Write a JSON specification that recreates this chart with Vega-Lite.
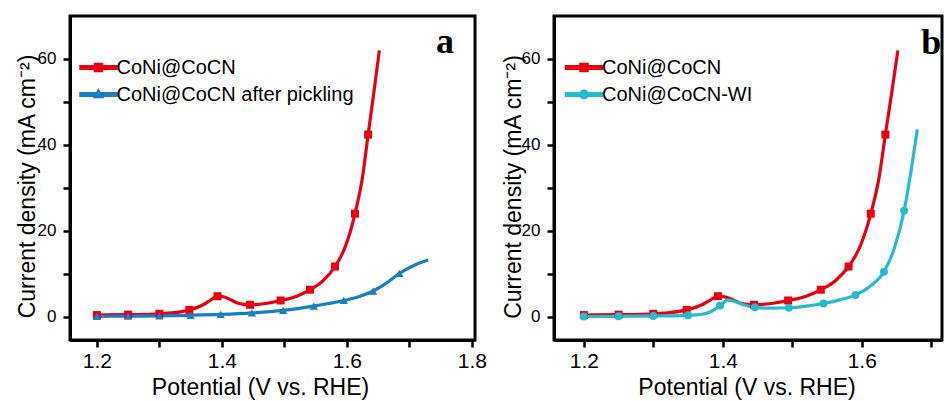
{
  "$schema": "https://vega.github.io/schema/vega-lite/v6.json",
  "padding": {"left": 14, "top": 14, "right": 0, "bottom": 0},
  "bounds": "flush",
  "spacing": 79,
  "config": {
    "view": {"stroke": "black", "strokeWidth": 3}
  },
  "datasets": {
    "curves": [
      {"series": "CoNi@CoCN", "x": 1.2, "y": 0.4},
      {"series": "CoNi@CoCN", "x": 1.25, "y": 0.5},
      {"series": "CoNi@CoCN", "x": 1.3, "y": 0.7},
      {"series": "CoNi@CoCN", "x": 1.32, "y": 0.9},
      {"series": "CoNi@CoCN", "x": 1.348, "y": 1.6},
      {"series": "CoNi@CoCN", "x": 1.37, "y": 2.8},
      {"series": "CoNi@CoCN", "x": 1.382, "y": 3.9},
      {"series": "CoNi@CoCN", "x": 1.393, "y": 4.8},
      {"series": "CoNi@CoCN", "x": 1.404, "y": 4.6},
      {"series": "CoNi@CoCN", "x": 1.415, "y": 3.9},
      {"series": "CoNi@CoCN", "x": 1.425, "y": 3.2},
      {"series": "CoNi@CoCN", "x": 1.435, "y": 2.9},
      {"series": "CoNi@CoCN", "x": 1.445, "y": 2.8},
      {"series": "CoNi@CoCN", "x": 1.47, "y": 3.1},
      {"series": "CoNi@CoCN", "x": 1.494, "y": 3.8},
      {"series": "CoNi@CoCN", "x": 1.52, "y": 4.8},
      {"series": "CoNi@CoCN", "x": 1.541, "y": 6.3},
      {"series": "CoNi@CoCN", "x": 1.562, "y": 8.4},
      {"series": "CoNi@CoCN", "x": 1.581, "y": 11.7},
      {"series": "CoNi@CoCN", "x": 1.598, "y": 16.5},
      {"series": "CoNi@CoCN", "x": 1.613, "y": 24},
      {"series": "CoNi@CoCN", "x": 1.625, "y": 32.5},
      {"series": "CoNi@CoCN", "x": 1.634, "y": 42.4},
      {"series": "CoNi@CoCN", "x": 1.643, "y": 52},
      {"series": "CoNi@CoCN", "x": 1.652, "y": 62},
      {"series": "CoNi@CoCN after pickling", "x": 1.2, "y": 0.1},
      {"series": "CoNi@CoCN after pickling", "x": 1.25, "y": 0.15},
      {"series": "CoNi@CoCN after pickling", "x": 1.3, "y": 0.2},
      {"series": "CoNi@CoCN after pickling", "x": 1.35, "y": 0.35},
      {"series": "CoNi@CoCN after pickling", "x": 1.398, "y": 0.55},
      {"series": "CoNi@CoCN after pickling", "x": 1.448, "y": 0.9},
      {"series": "CoNi@CoCN after pickling", "x": 1.498, "y": 1.5},
      {"series": "CoNi@CoCN after pickling", "x": 1.547, "y": 2.5},
      {"series": "CoNi@CoCN after pickling", "x": 1.595, "y": 3.8},
      {"series": "CoNi@CoCN after pickling", "x": 1.62, "y": 4.7},
      {"series": "CoNi@CoCN after pickling", "x": 1.642, "y": 6.0},
      {"series": "CoNi@CoCN after pickling", "x": 1.665, "y": 8.0},
      {"series": "CoNi@CoCN after pickling", "x": 1.684, "y": 10.1},
      {"series": "CoNi@CoCN after pickling", "x": 1.708, "y": 12.0},
      {"series": "CoNi@CoCN after pickling", "x": 1.73, "y": 13.2},
      {"series": "CoNi@CoCN-WI", "x": 1.2, "y": 0.05},
      {"series": "CoNi@CoCN-WI", "x": 1.25, "y": 0.1},
      {"series": "CoNi@CoCN-WI", "x": 1.3, "y": 0.2},
      {"series": "CoNi@CoCN-WI", "x": 1.35, "y": 0.35},
      {"series": "CoNi@CoCN-WI", "x": 1.37, "y": 0.6},
      {"series": "CoNi@CoCN-WI", "x": 1.384, "y": 1.3},
      {"series": "CoNi@CoCN-WI", "x": 1.396, "y": 2.6},
      {"series": "CoNi@CoCN-WI", "x": 1.407, "y": 3.9},
      {"series": "CoNi@CoCN-WI", "x": 1.418, "y": 3.5},
      {"series": "CoNi@CoCN-WI", "x": 1.43, "y": 2.8},
      {"series": "CoNi@CoCN-WI", "x": 1.446, "y": 2.2},
      {"series": "CoNi@CoCN-WI", "x": 1.47, "y": 2.0},
      {"series": "CoNi@CoCN-WI", "x": 1.495, "y": 2.1},
      {"series": "CoNi@CoCN-WI", "x": 1.52, "y": 2.5},
      {"series": "CoNi@CoCN-WI", "x": 1.545, "y": 3.1},
      {"series": "CoNi@CoCN-WI", "x": 1.57, "y": 4.0},
      {"series": "CoNi@CoCN-WI", "x": 1.591, "y": 5.1},
      {"series": "CoNi@CoCN-WI", "x": 1.612, "y": 7.1},
      {"series": "CoNi@CoCN-WI", "x": 1.632, "y": 10.5},
      {"series": "CoNi@CoCN-WI", "x": 1.647, "y": 16},
      {"series": "CoNi@CoCN-WI", "x": 1.661, "y": 24.7},
      {"series": "CoNi@CoCN-WI", "x": 1.671, "y": 34},
      {"series": "CoNi@CoCN-WI", "x": 1.68, "y": 43.6}
    ],
    "markers": [
      {"series": "CoNi@CoCN", "x": 1.2, "y": 0.4},
      {"series": "CoNi@CoCN", "x": 1.25, "y": 0.5},
      {"series": "CoNi@CoCN", "x": 1.3, "y": 0.7},
      {"series": "CoNi@CoCN", "x": 1.348, "y": 1.6},
      {"series": "CoNi@CoCN", "x": 1.393, "y": 4.8},
      {"series": "CoNi@CoCN", "x": 1.445, "y": 2.8},
      {"series": "CoNi@CoCN", "x": 1.494, "y": 3.8},
      {"series": "CoNi@CoCN", "x": 1.541, "y": 6.3},
      {"series": "CoNi@CoCN", "x": 1.581, "y": 11.7},
      {"series": "CoNi@CoCN", "x": 1.613, "y": 24},
      {"series": "CoNi@CoCN", "x": 1.634, "y": 42.4},
      {"series": "CoNi@CoCN after pickling", "x": 1.2, "y": 0.1},
      {"series": "CoNi@CoCN after pickling", "x": 1.25, "y": 0.15},
      {"series": "CoNi@CoCN after pickling", "x": 1.3, "y": 0.2},
      {"series": "CoNi@CoCN after pickling", "x": 1.35, "y": 0.35},
      {"series": "CoNi@CoCN after pickling", "x": 1.398, "y": 0.55},
      {"series": "CoNi@CoCN after pickling", "x": 1.448, "y": 0.9},
      {"series": "CoNi@CoCN after pickling", "x": 1.498, "y": 1.5},
      {"series": "CoNi@CoCN after pickling", "x": 1.547, "y": 2.5},
      {"series": "CoNi@CoCN after pickling", "x": 1.595, "y": 3.8},
      {"series": "CoNi@CoCN after pickling", "x": 1.642, "y": 6.0},
      {"series": "CoNi@CoCN after pickling", "x": 1.684, "y": 10.1},
      {"series": "CoNi@CoCN-WI", "x": 1.2, "y": 0.05},
      {"series": "CoNi@CoCN-WI", "x": 1.25, "y": 0.1},
      {"series": "CoNi@CoCN-WI", "x": 1.3, "y": 0.2},
      {"series": "CoNi@CoCN-WI", "x": 1.35, "y": 0.35},
      {"series": "CoNi@CoCN-WI", "x": 1.396, "y": 2.6},
      {"series": "CoNi@CoCN-WI", "x": 1.446, "y": 2.2},
      {"series": "CoNi@CoCN-WI", "x": 1.495, "y": 2.1},
      {"series": "CoNi@CoCN-WI", "x": 1.545, "y": 3.1},
      {"series": "CoNi@CoCN-WI", "x": 1.591, "y": 5.1},
      {"series": "CoNi@CoCN-WI", "x": 1.632, "y": 10.5},
      {"series": "CoNi@CoCN-WI", "x": 1.661, "y": 24.7}
    ]
  },
  "resolve": {"scale": {"color": "independent", "x": "independent"}, "legend": {"color": "independent"}},
  "hconcat": [
    {
      "width": 405,
      "height": 324,
      "encoding": {
        "x": {
          "field": "x", "type": "quantitative",
          "scale": {"domain": [1.157, 1.805], "nice": false, "zero": false},
          "axis": {
            "values": [1.2, 1.3, 1.4, 1.5, 1.6, 1.7, 1.8],
            "format": ".1f",
            "labelExpr": "round(datum.value*10) % 2 == 0 ? datum.label : ''",
            "grid": false,
            "domainColor": "black", "domainWidth": 3,
            "tickColor": "black", "tickWidth": 2.5, "tickSize": 7,
            "labelFont": "Liberation Sans", "labelFontSize": 21, "labelPadding": 3,
            "labelOverlap": false, "labelFlush": false,
            "title": "Potential (V vs. RHE)",
            "titleFont": "Liberation Sans", "titleFontSize": 23, "titleFontWeight": "normal",
            "titleX": 190, "titleY": 54, "titleBaseline": "alphabetic"
          }
        },
        "y": {
          "field": "y", "type": "quantitative",
          "scale": {"domain": [-5.4, 70], "nice": false, "zero": false},
          "axis": {
            "values": [0, 10, 20, 30, 40, 50, 60],
            "labelExpr": "datum.value % 20 == 0 ? datum.label : ''",
            "grid": false,
            "domainColor": "black", "domainWidth": 3,
            "tickColor": "black", "tickWidth": 2.5, "tickSize": 7,
            "labelFont": "Liberation Sans", "labelFontSize": 17, "labelPadding": 7,
            "labelOverlap": false,
            "title": "Current density (mA cm⁻²)",
            "titleFont": "Liberation Sans", "titleFontSize": 23, "titleFontWeight": "normal",
            "titleX": -43, "titleY": 170, "titleAngle": -90, "titleBaseline": "middle", "titleAlign": "center"
          }
        }
      },
      "layer": [
        {
          "data": {"name": "curves"},
          "transform": [{"filter": {"field": "series", "oneOf": ["CoNi@CoCN", "CoNi@CoCN after pickling"]}}],
          "mark": {"type": "line", "interpolate": "monotone", "strokeWidth": 3.2},
          "encoding": {
            "color": {
              "field": "series", "type": "nominal",
              "scale": {"domain": ["CoNi@CoCN", "CoNi@CoCN after pickling"], "range": ["#e60012", "#1a7ec3"]},
              "legend": {
                "orient": "none",
                "legendX": 17.5,
                "legendY": 40.5,
                "title": null,
                "padding": 0,
                "labelFont": "Liberation Sans",
                "labelFontSize": 20,
                "labelOffset": 7,
                "labelLimit": 400,
                "symbolSize": 400,
                "rowPadding": 6,
                "encode": {
                  "symbols": {
                    "update": {
                      "shape": {"signal": "datum.value === 'CoNi@CoCN' ? 'M-1.85,-0.17H1.85V0.17H-1.85Z M-0.4,-0.4H0.4V0.4H-0.4Z' : 'M-1.85,-0.17H1.85V0.17H-1.85Z M0,-0.5L0.45,0.3L-0.45,0.3Z'"},
                      "fill": {"signal": "datum.value === 'CoNi@CoCN' ? '#e60012' : '#1a7ec3'"},
                      "stroke": {"value": "transparent"},
                      "opacity": {"value": 1},
                      "fillOpacity": {"value": 1}
                    }
                  }
                }
              }
            }
          }
        },
        {
          "data": {"name": "markers"},
          "transform": [{"filter": {"field": "series", "equal": "CoNi@CoCN"}}],
          "mark": {"type": "point", "shape": "square", "filled": true, "opacity": 1, "size": 64, "color": "#e60012"}
        },
        {
          "data": {"name": "markers"},
          "transform": [{"filter": {"field": "series", "equal": "CoNi@CoCN after pickling"}}],
          "mark": {"type": "point", "shape": "triangle-up", "filled": true, "opacity": 1, "size": 70, "color": "#1a7ec3"}
        },
        {
          "data": {"values": [{"x": 1.757, "y": 61.3, "label": "a"}]},
          "mark": {"type": "text", "font": "Liberation Serif", "fontWeight": "bold", "fontSize": 36, "baseline": "alphabetic", "align": "center", "color": "black"},
          "encoding": {"text": {"field": "label"}}
        }
      ]
    },
    {
      "width": 388,
      "height": 324,
      "encoding": {
        "x": {
          "field": "x", "type": "quantitative",
          "scale": {"domain": [1.157, 1.7155], "nice": false, "zero": false},
          "axis": {
            "values": [1.2, 1.3, 1.4, 1.5, 1.6, 1.7],
            "format": ".1f",
            "labelExpr": "round(datum.value*10) % 2 == 0 ? datum.label : ''",
            "grid": false,
            "domainColor": "black", "domainWidth": 3,
            "tickColor": "black", "tickWidth": 2.5, "tickSize": 7,
            "labelFont": "Liberation Sans", "labelFontSize": 21, "labelPadding": 3,
            "labelOverlap": false, "labelFlush": false,
            "title": "Potential (V vs. RHE)",
            "titleFont": "Liberation Sans", "titleFontSize": 23, "titleFontWeight": "normal",
            "titleX": 192.5, "titleY": 54, "titleBaseline": "alphabetic"
          }
        },
        "y": {
          "field": "y", "type": "quantitative",
          "scale": {"domain": [-5.4, 70], "nice": false, "zero": false},
          "axis": {
            "values": [0, 10, 20, 30, 40, 50, 60],
            "labelExpr": "datum.value % 20 == 0 ? datum.label : ''",
            "grid": false,
            "domainColor": "black", "domainWidth": 3,
            "tickColor": "black", "tickWidth": 2.5, "tickSize": 7,
            "labelFont": "Liberation Sans", "labelFontSize": 17, "labelPadding": 7,
            "labelOverlap": false,
            "title": "Current density (mA cm⁻²)",
            "titleFont": "Liberation Sans", "titleFontSize": 23, "titleFontWeight": "normal",
            "titleX": -41, "titleY": 170.5, "titleAngle": -90, "titleBaseline": "middle", "titleAlign": "center"
          }
        }
      },
      "layer": [
        {
          "data": {"name": "curves"},
          "transform": [{"filter": {"field": "series", "oneOf": ["CoNi@CoCN", "CoNi@CoCN-WI"]}}],
          "mark": {"type": "line", "interpolate": "monotone", "strokeWidth": 3.2},
          "encoding": {
            "color": {
              "field": "series", "type": "nominal",
              "scale": {"domain": ["CoNi@CoCN", "CoNi@CoCN-WI"], "range": ["#e60012", "#27bccc"]},
              "legend": {
                "orient": "none",
                "legendX": 19,
                "legendY": 40.5,
                "title": null,
                "padding": 0,
                "labelFont": "Liberation Sans",
                "labelFontSize": 20,
                "labelOffset": 7,
                "labelLimit": 400,
                "symbolSize": 400,
                "rowPadding": 6,
                "encode": {
                  "symbols": {
                    "update": {
                      "shape": {"signal": "datum.value === 'CoNi@CoCN' ? 'M-1.85,-0.17H1.85V0.17H-1.85Z M-0.4,-0.4H0.4V0.4H-0.4Z' : 'M-1.85,-0.17H1.85V0.17H-1.85Z M0.42,0A0.42,0.42,0,1,1,-0.42,0A0.42,0.42,0,1,1,0.42,0Z'"},
                      "fill": {"signal": "datum.value === 'CoNi@CoCN' ? '#e60012' : '#27bccc'"},
                      "stroke": {"value": "transparent"},
                      "opacity": {"value": 1},
                      "fillOpacity": {"value": 1}
                    }
                  }
                }
              }
            }
          }
        },
        {
          "data": {"name": "markers"},
          "transform": [{"filter": {"field": "series", "equal": "CoNi@CoCN"}}],
          "mark": {"type": "point", "shape": "square", "filled": true, "opacity": 1, "size": 64, "color": "#e60012"}
        },
        {
          "data": {"name": "markers"},
          "transform": [{"filter": {"field": "series", "equal": "CoNi@CoCN-WI"}}],
          "mark": {"type": "point", "shape": "circle", "filled": true, "opacity": 1, "size": 64, "color": "#27bccc"}
        },
        {
          "data": {"values": [{"x": 1.7, "y": 61.2, "label": "b"}]},
          "mark": {"type": "text", "font": "Liberation Serif", "fontWeight": "bold", "fontSize": 36, "baseline": "alphabetic", "align": "center", "color": "black"},
          "encoding": {"text": {"field": "label"}}
        }
      ]
    }
  ]
}
